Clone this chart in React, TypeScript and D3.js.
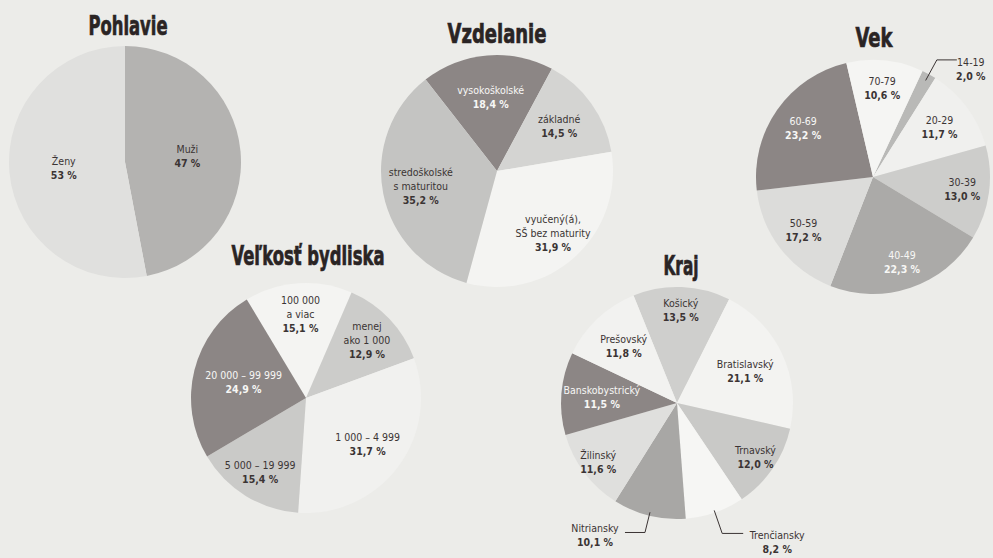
import React from "react";
import * as d3 from "d3";

const W = 993;
const H = 558;

// ---------- DATA ----------
const chartTitles = ["Pohlavie", "Vzdelanie", "Vek", "Veľkosť bydliska", "Kraj"];

const pohlavieLabels = ["Muži", "Ženy"];
const pohlavieValues = [47, 53];

const vzdelanieLabels = ["vysokoškolské", "základné", "vyučený(á),\nSŠ bez maturity", "stredoškolské\ns maturitou"];
const vzdelanieValues = [18.4, 14.5, 31.9, 35.2];

const vekLabels = ["14-19", "20-29", "30-39", "40-49", "50-59", "60-69", "70-79"];
const vekValues = [2.0, 11.7, 13.0, 22.3, 17.2, 23.2, 10.6];

const bydliskoLabels = ["100 000\na viac", "menej\nako 1 000", "1 000 – 4 999", "5 000 – 19 999", "20 000 – 99 999"];
const bydliskoValues = [15.1, 12.9, 31.7, 15.4, 24.9];

const krajLabels = ["Košický", "Bratislavský", "Trnavský", "Trenčiansky", "Nitriansky", "Žilinský", "Banskobystrický", "Prešovský"];
const krajValues = [13.5, 21.1, 12.0, 8.2, 10.1, 11.6, 11.5, 11.8];

// ---------- LAYOUT / STYLE ----------
const DARK = "#8c8685";
const TEXT = "#3b3434";
const WHITE_TEXT = "#f7f7f5";

type Leader = { index: number; startFrac: number; elbowFrac: number; hLen: number; textDx: number; textDy: number };
type Cfg = {
  title: string; labels: string[]; values: number[]; decimals: number;
  cx: number; cy: number; r: number; start: number;
  titleX: number; titleY: number; titleW: number;
  colors: string[]; textColors: string[]; labelFrac: number[];
  leaders: Leader[];
};

const charts: Cfg[] = [
  {
    title: chartTitles[0], labels: pohlavieLabels, values: pohlavieValues, decimals: 0,
    cx: 125, cy: 162, r: 116, start: 0,
    titleX: 128, titleY: 35, titleW: 79,
    colors: ["#b4b3b1", "#e0e0de"],
    textColors: [TEXT, TEXT],
    labelFrac: [0.54, 0.53],
    leaders: [],
  },
  {
    title: chartTitles[1], labels: vzdelanieLabels, values: vzdelanieValues, decimals: 1,
    cx: 497, cy: 171, r: 116, start: -38,
    titleX: 497, titleY: 43, titleW: 99,
    colors: [DARK, "#d4d4d2", "#f4f4f2", "#c4c4c2"],
    textColors: [WHITE_TEXT, TEXT, TEXT, TEXT],
    labelFrac: [0.64, 0.66, 0.72, 0.67],
    leaders: [],
  },
  {
    title: chartTitles[2], labels: vekLabels, values: vekValues, decimals: 1,
    cx: 873, cy: 177, r: 117, start: 25,
    titleX: 874, titleY: 47, titleW: 37,
    colors: ["#b9b9b7", "#f0f0ee", "#cdcdcb", "#abaaa8", "#dcdcda", DARK, "#f5f5f3"],
    textColors: [TEXT, TEXT, TEXT, WHITE_TEXT, TEXT, WHITE_TEXT, TEXT],
    labelFrac: [0, 0.71, 0.77, 0.77, 0.75, 0.73, 0.76],
    leaders: [{ index: 0, startFrac: 0.94, elbowFrac: 1.14, hLen: 20, textDx: 14, textDy: 2 }],
  },
  {
    title: chartTitles[3], labels: bydliskoLabels, values: bydliskoValues, decimals: 1,
    cx: 306, cy: 398, r: 115, start: -31,
    titleX: 308, titleY: 265, titleW: 153,
    colors: ["#f4f4f2", "#cccccA", "#f1f1ef", "#cacac8", DARK],
    textColors: [TEXT, TEXT, TEXT, TEXT, WHITE_TEXT],
    labelFrac: [0.73, 0.73, 0.67, 0.76, 0.56],
    leaders: [],
  },
  {
    title: chartTitles[4], labels: krajLabels, values: krajValues, decimals: 1,
    cx: 677, cy: 403, r: 116, start: -22,
    titleX: 681, titleY: 275, titleW: 35,
    colors: ["#cfcfcd", "#f3f3f1", "#c9c9c7", "#f6f6f4", "#a8a7a5", "#dfdfdd", DARK, "#f2f2f0"],
    textColors: [TEXT, TEXT, TEXT, TEXT, TEXT, TEXT, WHITE_TEXT, TEXT],
    labelFrac: [0.8, 0.65, 0.82, 0, 0, 0.85, 0.65, 0.67],
    leaders: [
      { index: 3, startFrac: 0.98, elbowFrac: 1.19, hLen: 21, textDx: 34, textDy: 2 },
      { index: 4, startFrac: 0.97, elbowFrac: 1.15, hLen: -20, textDx: -30, textDy: -4 },
    ],
  },
];

const rad = (deg: number) => (deg * Math.PI) / 180;
const LABEL_FONT = "'DejaVu Sans Condensed', 'Liberation Sans Narrow', sans-serif";
const TITLE_FONT = "'DejaVu Sans Condensed', 'Liberation Sans Narrow', sans-serif";
const LH = 14;

function fmt(v: number, dec: number) {
  return d3.format(`.${dec}f`)(v).replace(".", ",") + " %";
}

function LabelBlock({ x, y, lines, color, anchor = "middle" }: { x: number; y: number; lines: string[]; color: string; anchor?: string }) {
  const n = lines.length;
  return (
    <text x={x} textAnchor={anchor as any} fontFamily={LABEL_FONT} fontSize={10.5} fill={color}>
      {lines.map((l, i) => (
        <tspan key={i} x={x} y={y - ((n - 1) * LH) / 2 + i * LH + 3.8} fontWeight={i === n - 1 ? "bold" : "normal"}>
          {l}
        </tspan>
      ))}
    </text>
  );
}

function Pie({ c }: { c: Cfg }) {
  const pie = d3
    .pie<number>()
    .sort(null)
    .value((d) => d)
    .startAngle(rad(c.start))
    .endAngle(rad(c.start + 360));
  const arcs = pie(c.values);
  const arc = d3.arc<d3.PieArcDatum<number>>().innerRadius(0).outerRadius(c.r);
  const polar = (a: number, f: number): [number, number] => [c.cx + f * c.r * Math.sin(a), c.cy - f * c.r * Math.cos(a)];
  const leaderIdx = new Set(c.leaders.map((l) => l.index));

  return (
    <g>
      <text
        x={c.titleX}
        y={c.titleY}
        textAnchor="middle"
        fontFamily={TITLE_FONT}
        fontWeight="bold"
        fontSize={27}
        fill="#2a2424"
        stroke="#2a2424"
        strokeWidth={0.7}
        textLength={c.titleW}
        lengthAdjust="spacingAndGlyphs"
      >
        {c.title}
      </text>
      {arcs.map((a, i) => (
        <path key={i} d={arc(a) || ""} transform={`translate(${c.cx},${c.cy})`} fill={c.colors[i]} />
      ))}
      {arcs.map((a, i) => {
        if (leaderIdx.has(i)) return null;
        const mid = (a.startAngle + a.endAngle) / 2;
        const [x, y] = polar(mid, c.labelFrac[i]);
        const lines = [...c.labels[i].split("\n"), fmt(c.values[i], c.decimals)];
        return <LabelBlock key={i} x={x} y={y} lines={lines} color={c.textColors[i]} />;
      })}
      {c.leaders.map((l, k) => {
        const a = arcs[l.index];
        const mid = (a.startAngle + a.endAngle) / 2;
        const p0 = polar(mid, l.startFrac);
        const p1 = polar(mid, l.elbowFrac);
        const p2: [number, number] = [p1[0] + l.hLen, p1[1]];
        const lines = [...c.labels[l.index].split("\n"), fmt(c.values[l.index], c.decimals)];
        return (
          <g key={`l${k}`}>
            <polyline points={[p0, p1, p2].map((p) => p.join(",")).join(" ")} fill="none" stroke={TEXT} strokeWidth={1} />
            <LabelBlock x={p2[0] + l.textDx} y={p2[1] + l.textDy + ((lines.length - 1) * LH) / 2} lines={lines} color={TEXT} />
          </g>
        );
      })}
    </g>
  );
}

export default function App() {
  return (
    <div style={{ position: "fixed", left: 0, top: 0 }}>
      <svg width={W} height={H} viewBox={`0 0 ${W} ${H}`} style={{ display: "block" }}>
        <rect width={W} height={H} fill="#ecece9" />
        {charts.map((c, i) => (
          <Pie key={i} c={c} />
        ))}
      </svg>
    </div>
  );
}
